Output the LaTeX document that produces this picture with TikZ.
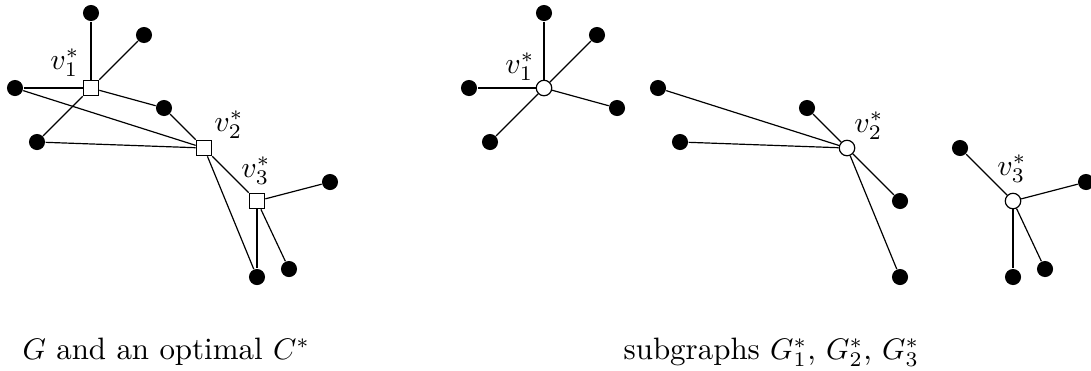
\documentclass[tikz,border=0pt]{standalone}
\begin{document}
\begin{tikzpicture}[x=0.336pt,y=-0.336pt,
  dotnode/.style={circle,fill=black,inner sep=0pt,minimum size=5.4pt},
  sqnode/.style={rectangle,draw,fill=white,inner sep=0pt,minimum size=5.2pt,line width=0.4pt},
  opennode/.style={circle,draw,fill=white,inner sep=0pt,minimum size=5.2pt,line width=0.4pt},
  edge/.style={line width=0.4pt},
  lbl/.style={inner sep=0pt,font=\fontsize{10.4}{12}\selectfont}]
\useasboundingbox (0,0) rectangle (1091,370);
% left graph
\node[sqnode] (v1) at (91,88) {};
\node[sqnode] (v2) at (204,148) {};
\node[sqnode] (v3) at (257,201) {};
\node[dotnode] (a1) at (91,13) {};
\node[dotnode] (a2) at (144,35) {};
\node[dotnode] (a3) at (15,88) {};
\node[dotnode] (a4) at (37,142) {};
\node[dotnode] (a5) at (164,108) {};
\node[dotnode] (a6) at (330,182) {};
\node[dotnode] (a7) at (257,277) {};
\node[dotnode] (a8) at (289,269) {};
\draw[edge] (v1) -- (a1);
\draw[edge] (v1) -- (a2);
\draw[edge] (v1) -- (a3);
\draw[edge] (v1) -- (a4);
\draw[edge] (v1) -- (a5);
\draw[edge] (v2) -- (a3);
\draw[edge] (v2) -- (a4);
\draw[edge] (v2) -- (a5);
\draw[edge] (v2) -- (v3);
\draw[edge] (v2) -- (a7);
\draw[edge] (v3) -- (a6);
\draw[edge] (v3) -- (a7);
\draw[edge] (v3) -- (a8);
\node[lbl] (l1) at (65,63) {$v_1^*$};
\node[lbl] (l2) at (229,125) {$v_2^*$};
\node[lbl] (l3) at (256,171) {$v_3^*$};
% subgraph 1
\node[opennode] (w1) at (544,88) {};
\node[dotnode] (b1) at (544,13) {};
\node[dotnode] (b2) at (597,35) {};
\node[dotnode] (b3) at (469,88) {};
\node[dotnode] (b4) at (490,142) {};
\node[dotnode] (b5) at (617,108) {};
\draw[edge] (w1) -- (b1);
\draw[edge] (w1) -- (b2);
\draw[edge] (w1) -- (b3);
\draw[edge] (w1) -- (b4);
\draw[edge] (w1) -- (b5);
\node[lbl] (m1) at (520,67) {$v_1^*$};
% subgraph 2
\node[opennode] (w2) at (847,148) {};
\node[dotnode] (c1) at (658,88) {};
\node[dotnode] (c2) at (680,142) {};
\node[dotnode] (c3) at (807,108) {};
\node[dotnode] (c4) at (900,201) {};
\node[dotnode] (c5) at (900,277) {};
\draw[edge] (w2) -- (c1);
\draw[edge] (w2) -- (c2);
\draw[edge] (w2) -- (c3);
\draw[edge] (w2) -- (c4);
\draw[edge] (w2) -- (c5);
\node[lbl] (m2) at (869,126) {$v_2^*$};
% subgraph 3
\node[opennode] (w3) at (1013,201) {};
\node[dotnode] (d1) at (960,148) {};
\node[dotnode] (d2) at (1086,182) {};
\node[dotnode] (d3) at (1013,277) {};
\node[dotnode] (d4) at (1045,269) {};
\draw[edge] (w3) -- (d1);
\draw[edge] (w3) -- (d2);
\draw[edge] (w3) -- (d3);
\draw[edge] (w3) -- (d4);
\node[lbl] (m3) at (1012,169) {$v_3^*$};
% captions
\node[lbl,anchor=base west] (cap1) at (22,359) {$G$ and an optimal $C^*$};
\node[lbl,anchor=base west] (cap2) at (623,359) {subgraphs $G_1^*$, $G_2^*$, $G_3^*$};
\end{tikzpicture}
\end{document}
